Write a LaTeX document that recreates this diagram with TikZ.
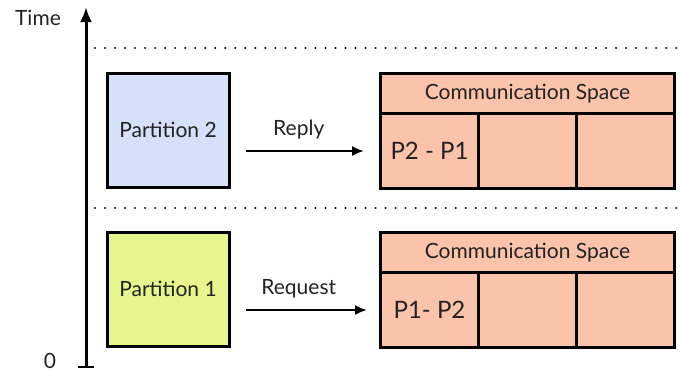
\documentclass[tikz,border=0pt]{standalone}
\usepackage{fontspec}
\setmainfont{Lato}
\usetikzlibrary{arrows.meta}
\definecolor{partblue}{HTML}{D6E0FB}
\definecolor{partgreen}{HTML}{E6F58C}
\definecolor{commfill}{HTML}{FAC3AA}
\definecolor{labeltext}{HTML}{222222}
\tikzstyle{partition} = [draw=black, line width=1.5pt, minimum width=61pt, minimum height=57pt, inner sep=0pt, text=labeltext, font=\fontsize{10.5}{12}\selectfont]
\tikzstyle{commhead} = [draw=black, fill=commfill, line width=1.5pt, anchor=north west, minimum width=147pt, minimum height=20pt, inner sep=0pt, text=labeltext, font=\fontsize{10.5}{12}\selectfont]
\tikzstyle{commcell} = [draw=black, fill=commfill, line width=1.5pt, anchor=north west, minimum width=49pt, minimum height=37.5pt, inner sep=0pt, text=labeltext, font=\fontsize{12}{14}\selectfont]
\tikzstyle{arrow} = [line width=1pt, -{Latex[length=6pt,width=5pt]}]
\tikzstyle{sepline} = [line width=1.2pt, line cap=round, dash pattern=on 0.01pt off 5pt]
\tikzstyle{lbl} = [text=labeltext, font=\fontsize{10.5}{12}\selectfont]

\begin{document}
\begin{tikzpicture}[x=0.5pt, y=-0.5pt]
	\useasboundingbox (0,0) rectangle (680,371);
	%Time axis
	\coordinate (axisbot) at (86,368);
	\coordinate (axistop) at (86,7);
	\draw[line width=1.5pt, {Bar[width=8pt,line width=1.2pt]}-{Latex[length=7.5pt,width=6pt]}] (axisbot) -- (axistop);
	\node[lbl] (timelbl) at (38,18) {Time};
	\node[lbl] (zerolbl) at (50,361) {0};
	%Separators
	\draw[sepline] (95,48) -- (680,48);
	\draw[sepline] (95,208) -- (680,208);
	%Partition 2
	\node[partition, fill=partblue] (part2) at (168,130) {Partition 2};
	\node[commhead] (head2) at (379,72) {Communication Space};
	\node[commcell] (cell21) at (379,112) {P2 - P1};
	\node[commcell] (cell22) at (477,112) {};
	\node[commcell] (cell23) at (575,112) {};
	\draw[arrow, shorten <=7.5pt, shorten >=7.5pt] (part2.east |- cell21.west) -- (cell21.west)
		node[lbl, midway, above=2pt, xshift=-3pt] (replylbl) {Reply};
	%Partition 1
	\node[partition, fill=partgreen] (part1) at (168,289) {Partition 1};
	\node[commhead] (head1) at (379,231) {Communication Space};
	\node[commcell] (cell11) at (379,271) {P1- P2};
	\node[commcell] (cell12) at (477,271) {};
	\node[commcell] (cell13) at (575,271) {};
	\draw[arrow, shorten <=7.5pt, shorten >=6pt] (part1.east |- cell11.west) -- (cell11.west)
		node[lbl, midway, above=2pt, xshift=-3pt] (requestlbl) {Request};

\end{tikzpicture}
\end{document}
